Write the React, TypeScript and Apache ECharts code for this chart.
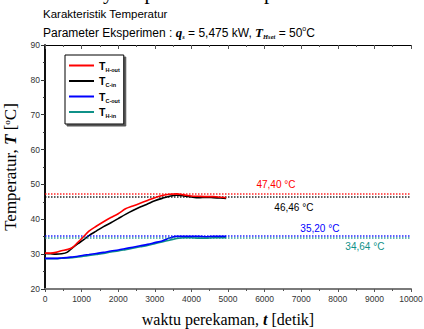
import React, { useEffect, useRef } from "react";
import * as echarts from "echarts";

const time = [0, 150, 300, 450, 600, 750, 900, 1050, 1200, 1400, 1600, 1800, 2000, 2200, 2400, 2600, 2800, 3000, 3200, 3400, 3600, 3800, 4000, 4200, 4400, 4600, 4800, 4950];
const tHOut = [30.3, 30.3, 30.5, 31.0, 31.3, 31.9, 33.4, 35.0, 36.6, 38.0, 39.3, 40.5, 41.6, 43.0, 43.8, 44.6, 45.4, 46.2, 46.8, 47.2, 47.3, 47.0, 46.7, 46.6, 46.5, 46.5, 46.3, 46.2];
const tCIn = [30.2, 30.1, 30.0, 30.1, 30.5, 31.8, 33.0, 34.1, 35.3, 36.6, 37.9, 39.0, 40.2, 41.4, 42.5, 43.5, 44.4, 45.3, 46.0, 46.6, 46.9, 46.7, 46.4, 46.2, 46.3, 46.2, 46.1, 46.0];
const tCOut = [28.8, 28.8, 28.8, 28.9, 29.0, 29.2, 29.4, 29.7, 29.9, 30.2, 30.5, 30.9, 31.2, 31.6, 32.0, 32.4, 32.8, 33.3, 33.8, 34.6, 35.1, 35.1, 35.1, 35.1, 35.0, 35.1, 35.1, 35.1];
const tHIn = [28.7, 28.7, 28.7, 28.8, 28.9, 29.0, 29.2, 29.4, 29.6, 29.9, 30.2, 30.6, 30.9, 31.3, 31.7, 32.1, 32.5, 33.0, 33.5, 34.0, 34.5, 34.7, 34.7, 34.6, 34.6, 34.7, 34.7, 34.7];

const seriesData = [tHOut, tCIn, tCOut, tHIn];
const seriesNames = ["H-out", "C-in", "C-out", "H-in"];
const seriesColors = ["#ff0000", "#000000", "#0000ff", "#0f9188"];
const avgValues = [47.4, 46.46, 35.2, 34.64];
const avgLabels = ["47,40 °C", "46,46 °C", "35,20 °C", "34,64 °C"];
const avgLabelTimes = [6310, 6800, 7510, 8740];
const avgLabelPos = ["top", "bottom", "top", "bottom"];
const avgLabelDist = [3, 5, 2, 3];

export default function App() {
  const ref = useRef<HTMLDivElement>(null);
  useEffect(() => {
    if (!ref.current) return;
    const chart = echarts.init(ref.current, null, { renderer: "svg" });
    const tickLabel = {
      fontSize: 8.5,
      color: "#333",
      fontFamily: "Liberation Sans, Arial, sans-serif",
      formatter: (v: number) => String(v),
    };
    const serif = "Liberation Serif, Times New Roman, serif";
    const series: any[] = seriesNames.map((n, i) => ({
      name: n,
      type: "line",
      data: time.map((t, j) => [t, seriesData[i][j]]),
      showSymbol: false,
      smooth: 0.3,
      lineStyle: { color: seriesColors[i], width: 1.6 },
      itemStyle: { color: seriesColors[i] },
      z: 5 - i,
      markLine: {
        silent: true,
        symbol: ["none", "none"],
        label: { show: false },
        lineStyle: { color: seriesColors[i], type: "dotted", width: 1.5, opacity: 0.85 },
        data: [{ yAxis: avgValues[i] }],
      },
      markPoint: {
        symbol: "circle",
        symbolSize: 1,
        itemStyle: { color: "rgba(0,0,0,0)" },
        label: {
          show: true,
          position: avgLabelPos[i],
          distance: avgLabelDist[i],
          formatter: avgLabels[i],
          color: seriesColors[i],
          fontSize: 10,
          fontFamily: "Liberation Sans, Arial, sans-serif",
        },
        data: [{ coord: [avgLabelTimes[i], avgValues[i]] }],
      },
    }));
    chart.setOption({
      animation: false,
      grid: { left: 45, top: 45, width: 366, height: 244, containLabel: false, outerBoundsMode: "none" },
      legend: {
        orient: "vertical",
        left: 65,
        top: 55,
        padding: [5, 4, 5, 4],
        itemGap: 3,
        itemWidth: 25,
        itemHeight: 2,
        icon: "rect",
        backgroundColor: "#fff",
        borderColor: "#000",
        borderWidth: 1,
        shadowColor: "#555",
        shadowOffsetX: 2,
        shadowOffsetY: 2,
        shadowBlur: 0,
        data: seriesNames,
        formatter: (name: string) => `{t|T}{s|${name}}`,
        textStyle: {
          rich: {
            t: { fontSize: 10.5, fontWeight: "bold", fontFamily: "Liberation Sans, Arial, sans-serif", color: "#000", lineHeight: 14 },
            s: { fontSize: 5.5, fontWeight: "bold", fontFamily: "Liberation Sans, Arial, sans-serif", color: "#000", verticalAlign: "bottom", lineHeight: 10, padding: [5, 0, 0, 0] },
          },
        },
      },
      xAxis: [
        {
          type: "value",
          position: "bottom",
          min: 0,
          max: 10000,
          interval: 1000,
          axisLine: { show: true, lineStyle: { color: "#7a7a7a", width: 2 } },
          axisTick: { show: true, inside: false, length: 3, lineStyle: { color: "#555" } },
          minorTick: { show: true, splitNumber: 2, length: 2, lineStyle: { color: "#555" } },
          axisLabel: { ...tickLabel, margin: 5 },
          splitLine: { show: false },
          name: "{a|waktu perekaman, }{b|t}{a| [detik]}",
          nameLocation: "middle",
          nameGap: 22,
          nameTextStyle: {
            rich: {
              a: { fontSize: 16, fontFamily: serif, color: "#000" },
              b: { fontSize: 16, fontFamily: serif, fontWeight: "bold", fontStyle: "italic", color: "#000" },
            },
          },
        },
        {
          type: "value",
          position: "top",
          min: 0,
          max: 10000,
          interval: 1000,
          axisLine: { show: true, lineStyle: { color: "#000", width: 1 } },
          axisTick: { show: true, inside: true, length: 4, lineStyle: { color: "#555" } },
          minorTick: { show: true, splitNumber: 2, length: 2, lineStyle: { color: "#555" } },
          axisLabel: { show: false },
          splitLine: { show: false },
        },
      ],
      yAxis: [
        {
          type: "value",
          position: "left",
          min: 20,
          max: 90,
          interval: 10,
          axisLine: { show: true, lineStyle: { color: "#000", width: 1.5 } },
          axisTick: { show: true, inside: false, length: 3, lineStyle: { color: "#333" } },
          minorTick: { show: true, splitNumber: 2, length: 2, lineStyle: { color: "#333" } },
          axisLabel: { ...tickLabel, margin: 5 },
          splitLine: { show: false },
          name: "{a|Temperatur, }{b|T}{a| [}{c|o}{a|C]}",
          nameLocation: "middle",
          nameRotate: 90,
          nameGap: 26,
          nameTextStyle: {
            rich: {
              a: { fontSize: 17, fontFamily: serif, color: "#000" },
              b: { fontSize: 17, fontFamily: serif, fontWeight: "bold", fontStyle: "italic", color: "#000" },
              c: { fontSize: 9, fontFamily: serif, color: "#000", verticalAlign: "top", padding: [0, 0, 7, 0] },
            },
          },
        },
        {
          type: "value",
          position: "right",
          min: 20,
          max: 90,
          interval: 10,
          axisLine: { show: true, lineStyle: { color: "#000", width: 1.5 } },
          axisTick: { show: true, inside: true, length: 4, lineStyle: { color: "#333" } },
          minorTick: { show: true, splitNumber: 2, length: 2, lineStyle: { color: "#333" } },
          axisLabel: { show: false },
          splitLine: { show: false },
        },
      ],
      graphic: [
        {
          type: "text",
          left: -6,
          top: -19,
          style: {
            text: "esuatu hasilnya dipresentasikan pada Gambar",
            fontSize: 21,
            fontFamily: serif,
            fill: "#000",
          },
        },
        {
          type: "text",
          left: 43,
          top: 8,
          style: {
            text: "Karakteristik Temperatur",
            fontSize: 11.5,
            fontFamily: "Liberation Sans, Arial, sans-serif",
            fill: "#000",
          },
        },
        {
          type: "text",
          left: 43,
          top: 25,
          style: {
            text: "{a|Parameter Eksperimen : }{q|q}{s|s}{a| = 5,475 kW, }{q|T}{s|Hset}{a| = 50}{o|o}{a|C}",
            rich: {
              a: { fontSize: 12, fontFamily: "Liberation Sans, Arial, sans-serif", fill: "#000", lineHeight: 15 },
              q: { fontSize: 13, fontFamily: serif, fontWeight: "bold", fontStyle: "italic", fill: "#000", lineHeight: 15 },
              s: { fontSize: 6.5, fontFamily: serif, fontWeight: "bold", fontStyle: "italic", fill: "#000", verticalAlign: "bottom", padding: [5, 0, 0, 0] },
              o: { fontSize: 7, fontFamily: "Liberation Sans, Arial, sans-serif", fill: "#000", verticalAlign: "top", padding: [0, 0, 5, 0] },
            },
          },
        },
      ],
      series,
    });
    return () => chart.dispose();
  }, []);
  return <div ref={ref} style={{ position: "fixed", left: 0, top: 0, width: 424, height: 329, background: "#fff" }} />;
}
